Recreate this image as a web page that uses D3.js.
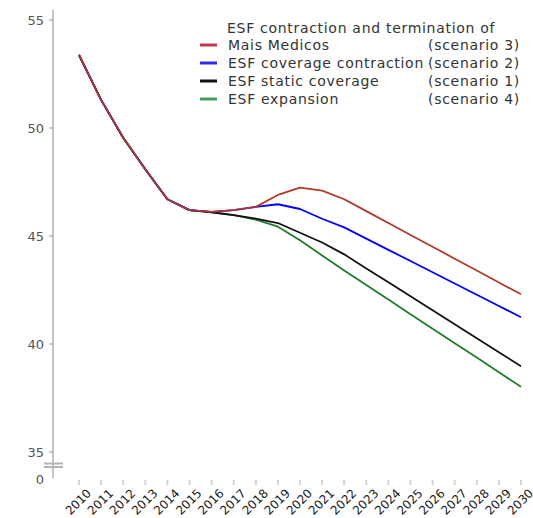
<!DOCTYPE html>
<html>
<head>
<meta charset="utf-8">
<script src="https://cdn.jsdelivr.net/npm/d3@7"></script>
<style>
  html, body { margin: 0; padding: 0; background: #fff; }
  svg { display: block; font-family: "DejaVu Sans", Verdana, sans-serif; }
</style>
</head>
<body>
<svg id="chart" width="533" height="518"></svg>
<script>
// Projection years
const years = [2010, 2011, 2012, 2013, 2014, 2015, 2016, 2017, 2018, 2019, 2020,
               2021, 2022, 2023, 2024, 2025, 2026, 2027, 2028, 2029, 2030];

// Scenario series (one value per year)
const maisMedicos = [53.38, 51.3, 49.55, 48.09, 46.7, 46.2, 46.12, 46.2, 46.35, 46.9, 47.24,
                     47.1, 46.7, 46.15, 45.6, 45.05, 44.5, 43.95, 43.4, 42.85, 42.3];
const coverageContraction = [53.38, 51.3, 49.55, 48.09, 46.7, 46.2, 46.12, 46.2, 46.35, 46.47, 46.25,
                             45.8, 45.4, 44.88, 44.36, 43.84, 43.32, 42.8, 42.28, 41.76, 41.24];
const staticCoverage = [53.38, 51.3, 49.55, 48.09, 46.7, 46.2, 46.1, 45.97, 45.8, 45.6, 45.15,
                        44.7, 44.15, 43.5, 42.86, 42.21, 41.56, 40.91, 40.27, 39.62, 38.97];
const expansion = [53.38, 51.3, 49.55, 48.09, 46.7, 46.2, 46.1, 45.97, 45.76, 45.43, 44.8,
                   44.1, 43.4, 42.73, 42.06, 41.38, 40.71, 40.04, 39.37, 38.69, 38.02];

// Legend labels
const legendTitle = "ESF contraction and termination of";
const seriesNames = ["Mais Medicos", "ESF coverage contraction", "ESF static coverage", "ESF expansion"];
const scenarioLabels = ["(scenario 3)", "(scenario 2)", "(scenario 1)", "(scenario 4)"];
const seriesColors = ["#b03a2a", "#0000ff", "#111111", "#1e7d2a"];
const swatchColors = ["#c0394a", "#2a2af0", "#111111", "#4a9a60"];

// Y axis ticks (with a broken axis down to zero)
const yTicks = [35, 40, 45, 50, 55];
const yBreakLabel = "0";

const seriesValues = [maisMedicos, coverageContraction, staticCoverage, expansion];

const svg = d3.select("#chart");

const x = d3.scaleLinear().domain([2010, 2030]).range([79, 521]);
const y = d3.scaleLinear().domain([35, 55]).range([452, 20]);

const axisX = 53;
const grey = "#c4c4c4";

// Y axis line (runs past 35 to the broken zero segment)
svg.append("line")
  .attr("x1", axisX).attr("x2", axisX)
  .attr("y1", 10).attr("y2", y(35) + 26)
  .attr("stroke", grey).attr("stroke-width", 2);

// Y ticks and labels
const yAxis = svg.append("g");
yAxis.selectAll("line.tick")
  .data(yTicks).join("line")
  .attr("class", "tick")
  .attr("x1", axisX - 4).attr("x2", axisX)
  .attr("y1", d => y(d)).attr("y2", d => y(d))
  .attr("stroke", "#999").attr("stroke-width", 1);
yAxis.selectAll("text")
  .data(yTicks).join("text")
  .attr("x", axisX - 9)
  .attr("y", d => y(d))
  .attr("dy", "0.36em")
  .attr("text-anchor", "end")
  .attr("font-size", 13)
  .attr("fill", "#555")
  .text(d => d);

// Axis break marks
[11.5, 15].forEach(off => {
  svg.append("line")
    .attr("x1", axisX - 9).attr("x2", axisX + 10)
    .attr("y1", y(35) + off).attr("y2", y(35) + off)
    .attr("stroke", "#b4b4b4").attr("stroke-width", 2);
});

// Zero label below the break
svg.append("text")
  .attr("x", axisX - 9)
  .attr("y", y(35) + 27)
  .attr("dy", "0.36em")
  .attr("text-anchor", "end")
  .attr("font-size", 13)
  .attr("fill", "#555")
  .text(yBreakLabel);

// X tick marks and rotated year labels
const xAxis = svg.append("g");
xAxis.selectAll("line")
  .data(years).join("line")
  .attr("x1", d => x(d)).attr("x2", d => x(d))
  .attr("y1", 480).attr("y2", 485)
  .attr("stroke", "#d4d4d4").attr("stroke-width", 2);
xAxis.selectAll("text")
  .data(years).join("text")
  .attr("transform", d => `translate(${x(d) + 13},${494}) rotate(-45)`)
  .attr("text-anchor", "end")
  .attr("font-size", 12)
  .attr("fill", "#1a1a1a")
  .text(d => d);

// Scenario lines
const line = d3.line()
  .x((d, i) => x(years[i]))
  .y(d => y(d));

// Series drawn in reverse legend order so the Mais Medicos line sits on top
svg.append("g")
  .selectAll("path")
  .data(seriesValues.map((v, i) => ({ v, i })).reverse())
  .join("path")
  .attr("d", d => line(d.v))
  .attr("fill", "none")
  .attr("stroke", d => seriesColors[d.i])
  .attr("stroke-width", 1.8)
  .attr("stroke-linejoin", "round");

// Legend
const legendFont = 14;
const legendSpacing = 0.7;
const legend = svg.append("g");
legend.append("text")
  .attr("x", 227).attr("y", 28)
  .attr("dy", "0.36em")
  .attr("font-size", legendFont)
  .attr("letter-spacing", legendSpacing)
  .attr("fill", "#333")
  .text(legendTitle);

const rows = legend.selectAll("g.row")
  .data(seriesNames).join("g")
  .attr("class", "row")
  .attr("transform", (d, i) => `translate(0,${45 + i * 18})`);
rows.append("line")
  .attr("x1", 200).attr("x2", 217)
  .attr("y1", 0).attr("y2", 0)
  .attr("stroke", (d, i) => swatchColors[i])
  .attr("stroke-width", 3);
rows.append("text")
  .attr("x", 228).attr("y", 0)
  .attr("dy", "0.36em")
  .attr("font-size", legendFont)
  .attr("letter-spacing", legendSpacing)
  .attr("fill", "#333")
  .text(d => d);
rows.append("text")
  .attr("x", 520).attr("y", 0)
  .attr("dy", "0.36em")
  .attr("text-anchor", "end")
  .attr("font-size", legendFont)
  .attr("letter-spacing", legendSpacing)
  .attr("fill", "#333")
  .text((d, i) => scenarioLabels[i]);
</script>
</body>
</html>
